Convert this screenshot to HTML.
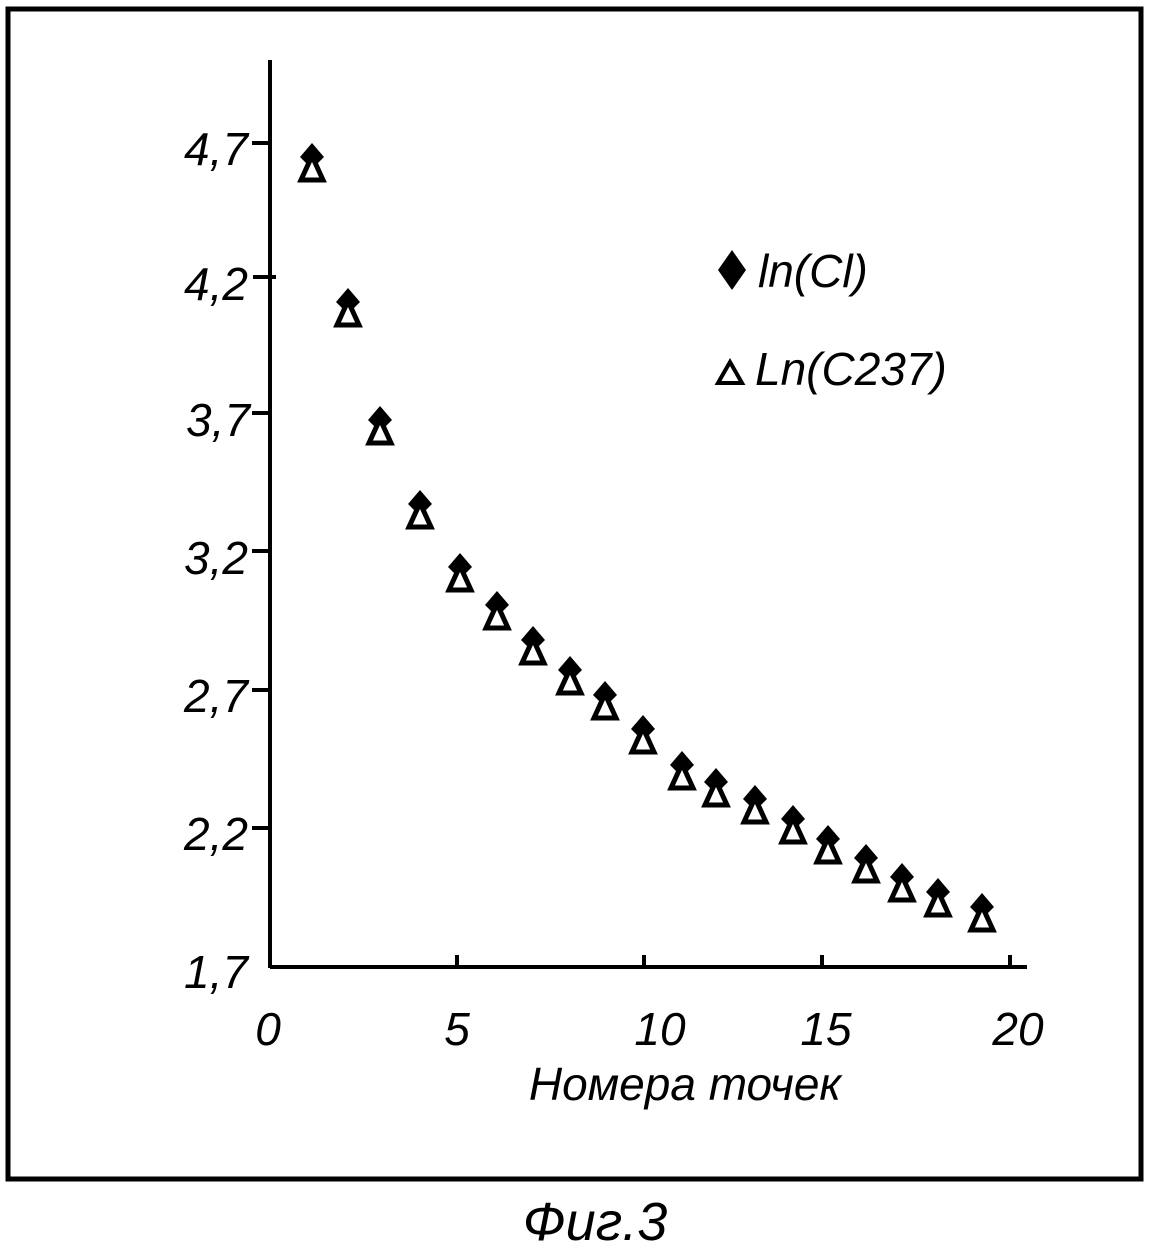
<!DOCTYPE html>
<html><head><meta charset="utf-8"><style>
html,body{margin:0;padding:0;background:#fff;}
svg{display:block;}
text{font-family:"Liberation Sans","DejaVu Sans",sans-serif;font-style:italic;fill:#000;}
</style></head><body>
<svg width="1159" height="1259" viewBox="0 0 1159 1259" xmlns="http://www.w3.org/2000/svg">
<defs>
<g id="m"><polygon points="0,-12 12,2 0,14 -12,2" fill="#000"/><polygon points="0,1 11,25 -11,25" fill="#fff" stroke="#000" stroke-width="5"/></g>
</defs>
<rect x="8" y="9" width="1133" height="1170" fill="none" stroke="#000" stroke-width="5"/>
<line x1="270" y1="60" x2="270" y2="968" stroke="#000" stroke-width="4"/>
<line x1="270" y1="967" x2="1027" y2="967" stroke="#000" stroke-width="4"/>
<g stroke="#000" stroke-width="4">
<line x1="252" y1="143" x2="272" y2="143"/><line x1="253" y1="277" x2="276" y2="277"/>
<line x1="252" y1="413" x2="270" y2="413"/><line x1="252" y1="551" x2="270" y2="551"/>
<line x1="252" y1="690" x2="270" y2="690"/><line x1="252" y1="828" x2="270" y2="828"/>
<line x1="457" y1="955" x2="457" y2="967"/><line x1="644" y1="955" x2="644" y2="967"/>
<line x1="822" y1="955" x2="822" y2="967"/><line x1="1010" y1="955" x2="1010" y2="967"/>
</g>
<g font-size="46" text-anchor="end">
<text x="248" y="165">4,7</text><text x="248" y="300">4,2</text><text x="250" y="436">3,7</text>
<text x="248" y="574">3,2</text><text x="248" y="712">2,7</text><text x="248" y="850">2,2</text><text x="248" y="988">1,7</text>
</g>
<g font-size="46" text-anchor="middle">
<text x="268" y="1045">0</text><text x="457" y="1045">5</text><text x="660" y="1045">10</text>
<text x="826" y="1045">15</text><text x="1018" y="1045">20</text>
<text x="685" y="1100">Номера точек</text>
<text x="595" y="1240" font-size="54">Фиг.3</text>
</g>
<use href="#m" x="312" y="155"/>
<use href="#m" x="348" y="300"/>
<use href="#m" x="380" y="418"/>
<use href="#m" x="420" y="502"/>
<use href="#m" x="460" y="565"/>
<use href="#m" x="497" y="603"/>
<use href="#m" x="533" y="638"/>
<use href="#m" x="570" y="668"/>
<use href="#m" x="605" y="693"/>
<use href="#m" x="643" y="727"/>
<use href="#m" x="682" y="763"/>
<use href="#m" x="716" y="780"/>
<use href="#m" x="755" y="797"/>
<use href="#m" x="793" y="817"/>
<use href="#m" x="828" y="837"/>
<use href="#m" x="866" y="856"/>
<use href="#m" x="902" y="875"/>
<use href="#m" x="938" y="890"/>
<use href="#m" x="982" y="905"/>
<polygon points="732,250 746,270 732,290 718,270" fill="#000"/>
<text x="758" y="287" font-size="46">ln(Cl)</text>
<polygon points="730,362 742,383 718,383" fill="none" stroke="#000" stroke-width="4"/>
<text x="755" y="385" font-size="46">Ln(C237)</text>
</svg>
</body></html>
